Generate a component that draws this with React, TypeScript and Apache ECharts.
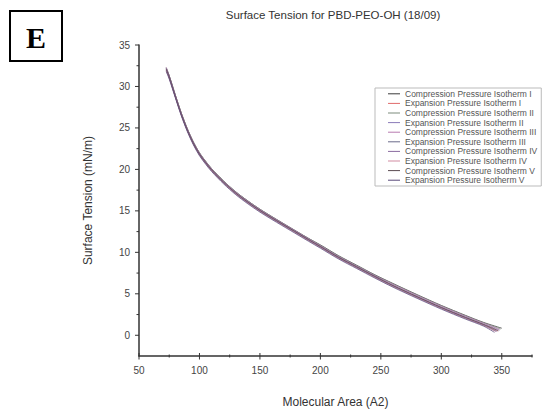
import React, { useEffect, useRef } from "react";
import * as echarts from "echarts";

const molecularArea = [72.5, 75, 80, 85, 90, 95, 100, 105, 110, 120, 130, 140, 150, 160, 175, 190, 200, 215, 230, 245, 260, 280, 300, 320, 335];
const endArea = [350, 347, 349, 346, 348, 345, 348, 345, 347, 344];

const seriesNames = [
  "Compression Pressure Isotherm I",
  "Expansion Pressure Isotherm I",
  "Compression Pressure Isotherm II",
  "Expansion Pressure Isotherm II",
  "Compression Pressure Isotherm III",
  "Expansion Pressure Isotherm III",
  "Compression Pressure Isotherm IV",
  "Expansion Pressure Isotherm IV",
  "Compression Pressure Isotherm V",
  "Expansion Pressure Isotherm V",
];

const compI = [32.2, 31.3, 29.0, 26.8, 24.9, 23.3, 22.0, 21.0, 20.1, 18.6, 17.3, 16.2, 15.2, 14.3, 13.0, 11.7, 10.9, 9.6, 8.45, 7.3, 6.25, 4.9, 3.6, 2.4, 1.55, 0.85];
const expI = [32.0, 31.1, 28.8, 26.6, 24.7, 23.1, 21.8, 20.8, 19.9, 18.4, 17.1, 16.0, 15.0, 14.1, 12.8, 11.5, 10.65, 9.35, 8.2, 7.05, 5.95, 4.6, 3.3, 2.1, 1.25, 0.5];
const compII = [32.3, 31.3, 29.0, 26.8, 24.9, 23.3, 22.0, 21.0, 20.1, 18.6, 17.3, 16.2, 15.2, 14.3, 12.95, 11.7, 10.85, 9.55, 8.4, 7.25, 6.2, 4.85, 3.55, 2.35, 1.5, 0.75];
const expII = [31.9, 31.0, 28.75, 26.55, 24.65, 23.05, 21.75, 20.75, 19.85, 18.35, 17.05, 15.95, 14.95, 14.05, 12.75, 11.45, 10.6, 9.3, 8.15, 7.0, 5.9, 4.55, 3.25, 2.05, 1.2, 0.45];
const compIII = [32.3, 31.25, 28.95, 26.75, 24.85, 23.25, 21.95, 20.95, 20.05, 18.55, 17.25, 16.15, 15.15, 14.25, 12.95, 11.65, 10.8, 9.5, 8.35, 7.2, 6.15, 4.8, 3.5, 2.3, 1.45, 0.7];
const expIII = [32.0, 31.1, 28.8, 26.6, 24.7, 23.1, 21.8, 20.8, 19.9, 18.4, 17.1, 16.0, 15.0, 14.1, 12.8, 11.5, 10.65, 9.35, 8.2, 7.05, 5.95, 4.6, 3.3, 2.1, 1.25, 0.5];
const compIV = [32.2, 31.2, 28.9, 26.7, 24.8, 23.2, 21.9, 20.9, 20.0, 18.5, 17.2, 16.1, 15.1, 14.2, 12.9, 11.6, 10.75, 9.45, 8.3, 7.15, 6.05, 4.7, 3.4, 2.2, 1.35, 0.6];
const expIV = [31.9, 31.0, 28.75, 26.55, 24.65, 23.05, 21.75, 20.75, 19.85, 18.35, 17.05, 15.95, 14.95, 14.05, 12.75, 11.45, 10.6, 9.3, 8.15, 7.0, 5.9, 4.55, 3.25, 2.05, 1.2, 0.45];
const compV = [32.1, 31.15, 28.85, 26.65, 24.75, 23.15, 21.85, 20.85, 19.95, 18.45, 17.15, 16.05, 15.05, 14.15, 12.85, 11.55, 10.7, 9.4, 8.25, 7.1, 6.0, 4.65, 3.35, 2.15, 1.3, 0.55];
const expV = [31.8, 30.9, 28.65, 26.45, 24.55, 22.95, 21.65, 20.65, 19.75, 18.25, 16.95, 15.85, 14.85, 13.95, 12.65, 11.35, 10.5, 9.2, 8.05, 6.9, 5.8, 4.45, 3.15, 1.95, 1.1, 0.35];

const tensions = [compI, expI, compII, expII, compIII, expIII, compIV, expIV, compV, expV];

const seriesColors = ["#3a3a3a", "#e06a6a", "#7a8a7a", "#8a7ab8", "#b87ab0", "#6a6a8a", "#8a6aa0", "#d08aa0", "#5a4a50", "#5a4a7a"];

const xMajorTicks = [50, 100, 150, 200, 250, 300, 350];
const xMinorTicks = [75, 125, 175, 225, 275, 325, 375];
const yMajorTicks = [0, 5, 10, 15, 20, 25, 30, 35];
const yMinorTicks = [2.5, 7.5, 12.5, 17.5, 22.5, 27.5, 32.5];

const X_MIN = 50;
const X_MAX = 375;
const Y_MIN = -2.5;
const Y_MAX = 35;

const FONT = "Liberation Sans, Arial, sans-serif";

export default function App() {
  const ref = useRef<HTMLDivElement>(null);
  useEffect(() => {
    if (!ref.current) return;
    const chart = echarts.init(ref.current, null, { renderer: "svg" });
    const labelColor = "#444";
    const axisLineStyle = { color: "#333", width: 1.5 };
    const lineSeries = seriesNames.map((name, i) => {
      const ys = tensions[i];
      const data = ys.map((v, j) => [j < molecularArea.length ? molecularArea[j] : endArea[i], v]);
      return {
        name,
        type: "line",
        data,
        smooth: 0.3,
        symbol: "none",
        lineStyle: { color: seriesColors[i], width: 0.9, opacity: 0.85 },
        itemStyle: { color: seriesColors[i] },
        z: 2,
      };
    });

    const tickData: any[] = [
      ...xMajorTicks.map((v) => [v, 0]),
      ...xMinorTicks.map((v) => [v, 1]),
      ...yMajorTicks.map((v) => [v, 2]),
      ...yMinorTicks.map((v) => [v, 3]),
    ];
    const tickSeries = {
      type: "custom",
      name: "ticks",
      silent: true,
      clip: false,
      z: 5,
      data: tickData,
      encode: { x: -1, y: -1 },
      renderItem: (params: any, api: any) => {
        const v = api.value(0);
        const kind = api.value(1);
        const style = { stroke: "#333", lineWidth: 1 };
        if (kind === 0 || kind === 1) {
          const p = api.coord([v, Y_MIN]);
          const up = kind === 0 ? 3 : 1.5;
          const down = kind === 0 ? 3.5 : 1.5;
          return { type: "line", shape: { x1: p[0], y1: p[1] - up, x2: p[0], y2: p[1] + down }, style };
        }
        const p = api.coord([X_MIN, v]);
        const len = kind === 2 ? 4 : 2.5;
        return { type: "line", shape: { x1: p[0] - len, y1: p[1], x2: p[0], y2: p[1] }, style };
      },
    };

    chart.setOption({
      animation: false,
      backgroundColor: "#fff",
      title: {
        text: "Surface Tension for PBD-PEO-OH (18/09)",
        left: 333,
        textAlign: "center",
        top: 9,
        padding: 0,
        textStyle: { fontSize: 11.5, fontWeight: "normal", color: "#333", fontFamily: FONT },
      },
      grid: { left: 139, right: 13, top: 45, bottom: 46, containLabel: false },
      legend: {
        orient: "vertical",
        left: 375,
        top: 88,
        padding: [1, 4, 1, 13],
        itemWidth: 12,
        itemHeight: 8,
        itemGap: 0,
        borderColor: "#bbb",
        borderWidth: 1,
        icon: "path://M0,4L12,4L12,5L0,5Z",
        textStyle: { fontSize: 8.5, color: "#555", fontFamily: FONT, lineHeight: 9.6 },
        data: seriesNames,
      },
      xAxis: {
        type: "value",
        min: X_MIN,
        max: X_MAX,
        interval: 50,
        name: "Molecular Area (A2)",
        nameLocation: "middle",
        nameGap: 40,
        nameTextStyle: { fontSize: 12, color: "#333", fontFamily: FONT },
        axisLine: { show: true, onZero: false, lineStyle: axisLineStyle },
        axisTick: { show: false },
        axisLabel: { showMaxLabel: false, fontSize: 10, color: labelColor, margin: 9, fontFamily: FONT },
        splitLine: { show: false },
      },
      yAxis: {
        type: "value",
        min: Y_MIN,
        max: Y_MAX,
        name: "Surface Tension (mN/m)",
        nameLocation: "middle",
        nameGap: 45,
        nameTextStyle: { fontSize: 12, color: "#333", fontFamily: FONT },
        axisLine: { show: true, onZero: false, lineStyle: axisLineStyle },
        axisTick: { show: false },
        axisLabel: { customValues: yMajorTicks, fontSize: 10, color: labelColor, margin: 9, fontFamily: FONT },
        splitLine: { show: false },
      },
      graphic: [
        {
          type: "group",
          left: 9,
          top: 10,
          children: [
            { type: "rect", shape: { x: 1, y: 1, width: 52, height: 50 }, style: { fill: "#fff", stroke: "#000", lineWidth: 2 } },
            {
              type: "text",
              x: 27,
              y: 27,
              style: {
                text: "E",
                fontSize: 30,
                fontWeight: "bold",
                fontFamily: "Liberation Serif, DejaVu Serif, serif",
                fill: "#000",
                align: "center",
                verticalAlign: "middle",
              },
            },
          ],
        },
      ],
      series: [...lineSeries, tickSeries],
    });
    return () => chart.dispose();
  }, []);
  return <div ref={ref} style={{ position: "fixed", left: 0, top: 0, width: 545, height: 413 }} />;
}
